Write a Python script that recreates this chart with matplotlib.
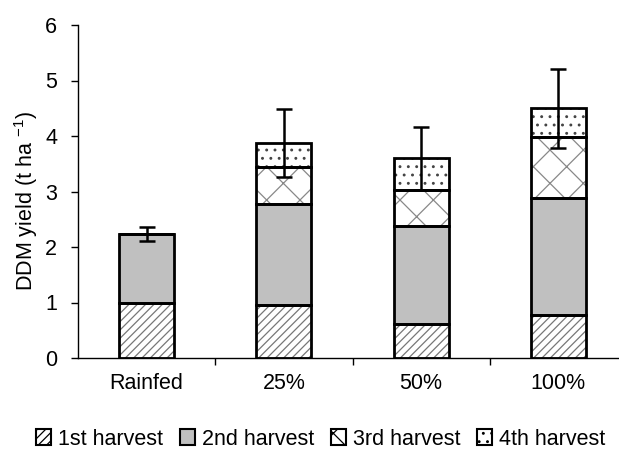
import matplotlib
matplotlib.use("Agg")
import matplotlib.pyplot as plt
from matplotlib.patches import Patch
import numpy as np

plt.rcParams["font.family"] = ["Liberation Sans", "DejaVu Sans"]
plt.rcParams["mathtext.default"] = "regular"
plt.rcParams["hatch.linewidth"] = 0.9

# data
treatments = ["Rainfed", "25%", "50%", "100%"]
harvest_names = ["1st harvest", "2nd harvest", "3rd harvest", "4th harvest"]
harvest1 = [1.00, 0.95, 0.62, 0.77]
harvest2 = [1.23, 1.82, 1.75, 2.12]
harvest3 = [0.00, 0.67, 0.66, 1.10]
harvest4 = [0.00, 0.43, 0.57, 0.51]
err = [0.13, 0.61, 0.57, 0.71]

layers = [harvest1, harvest2, harvest3, harvest4]
fills = ["white", "#c0c0c0", "white", "white"]
hatches = ["////", None, "x", ".."]
hatch_cols = ["#777777", "#555555", "#888888", "#444444"]

fig = plt.figure(figsize=(6.19, 4.57), dpi=100)
ax = fig.add_axes([78 / 619, 99 / 457, 549 / 619, 333 / 457])

x = np.arange(len(treatments))
width = 0.4
bottom = np.zeros(len(treatments))
for vals, fc, h, hc in zip(layers, fills, hatches, hatch_cols):
    vals = np.array(vals)
    # hatch layer in grey, then a black outline on top
    ax.bar(x, vals, width, bottom=bottom, color=fc, edgecolor=hc,
           linewidth=0, hatch=h, zorder=2)
    ax.bar(x, vals, width, bottom=bottom, fill=False, edgecolor="black",
           linewidth=2, zorder=3)
    bottom += vals

ax.errorbar(x, bottom, yerr=err, fmt="none", ecolor="black", elinewidth=1.8,
            capsize=6, capthick=1.8, zorder=4)

ax.set_xlim(-0.5, len(treatments) - 0.5)
ax.set_ylim(0, 6)
ax.set_yticks(range(7))
ax.tick_params(axis="y", direction="out", length=5, width=1, pad=10, labelsize=15.5)

# tick marks between groups, labels under the bars
ax.set_xticks(np.arange(len(treatments) - 1) + 0.5)
ax.set_xticklabels([])
ax.set_xticks(x, minor=True)
ax.set_xticklabels(treatments, minor=True)
ax.tick_params(axis="x", which="major", direction="out", length=5, width=1)
ax.tick_params(axis="x", which="minor", length=0, pad=11, labelsize=15.5)

for side in ["top", "right"]:
    ax.spines[side].set_visible(False)
for side in ["left", "bottom"]:
    ax.spines[side].set_linewidth(1)

ax.set_ylabel("DDM yield (t ha $^{-1}$)", fontsize=15.5)
ax.yaxis.set_label_coords(-0.07, 0.47)

handles = [Patch(facecolor=fc, edgecolor="black", linewidth=1.5, hatch=h)
           for fc, h in zip(fills, hatches)]
fig.legend(handles, harvest_names, loc="lower center", ncol=4, frameon=False,
           bbox_to_anchor=(0.518, -0.026), fontsize=15.5, handlelength=0.7,
           handleheight=0.7, handletextpad=0.3, columnspacing=0.8)

fig.savefig("out.png", dpi=100)
